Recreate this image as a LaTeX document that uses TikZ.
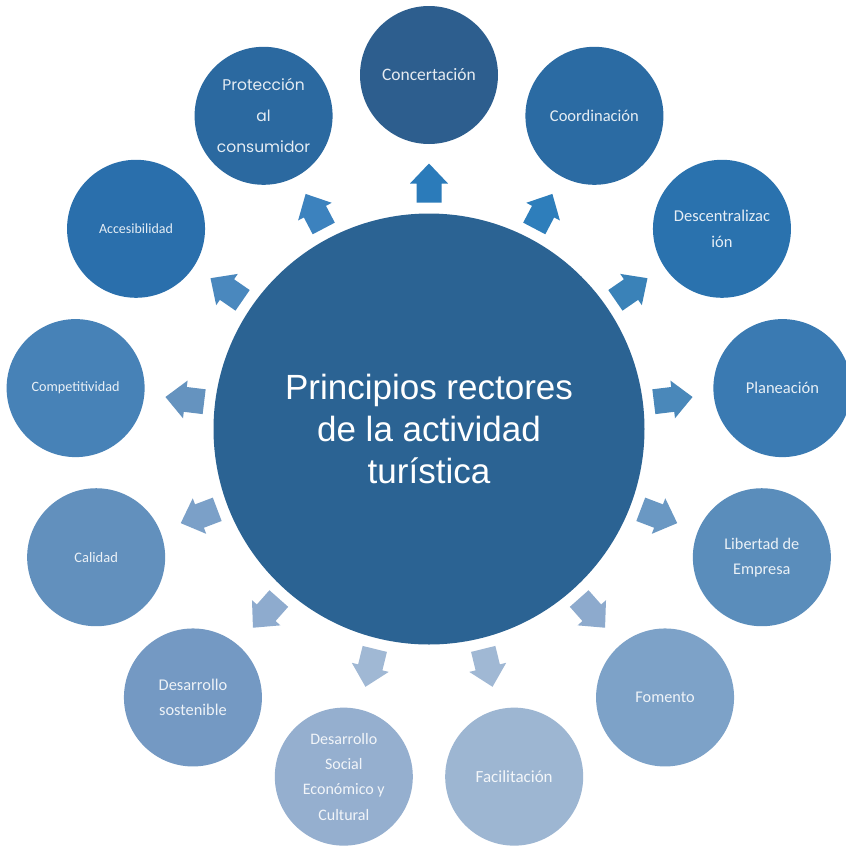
\documentclass[tikz,border=0pt]{standalone}
\usepackage{fontspec}
\setmainfont{Carlito}
\newfontfamily\centerfont{Liberation Sans}
\newfontfamily\protfont{Poppins}
\usetikzlibrary{calc}
\definecolor{cc}{HTML}{2B6393}
\definecolor{c0}{HTML}{2D5E8E}
\definecolor{c1}{HTML}{2B6BA3}
\definecolor{c2}{HTML}{2A72AE}
\definecolor{c3}{HTML}{3A7AB2}
\definecolor{c4}{HTML}{5A8DBB}
\definecolor{c5}{HTML}{7DA2C8}
\definecolor{c6}{HTML}{9DB6D2}
\definecolor{c7}{HTML}{95AFCF}
\definecolor{c8}{HTML}{7499C3}
\definecolor{c9}{HTML}{6290BD}
\definecolor{c10}{HTML}{4782B7}
\definecolor{c11}{HTML}{2A6FAC}
\definecolor{c12}{HTML}{2B69A0}
\definecolor{a0}{HTML}{2B7BBA}
\definecolor{a1}{HTML}{2E7EBB}
\definecolor{a2}{HTML}{3A82B8}
\definecolor{a3}{HTML}{4A88BA}
\definecolor{a4}{HTML}{6A98C3}
\definecolor{a5}{HTML}{8DAACD}
\definecolor{a6}{HTML}{A0B8D4}
\definecolor{a7}{HTML}{A0B8D4}
\definecolor{a8}{HTML}{8EABCE}
\definecolor{a9}{HTML}{7BA0C8}
\definecolor{a10}{HTML}{6593BF}
\definecolor{a11}{HTML}{4A88BE}
\definecolor{a12}{HTML}{3C82BE}
\tikzset{
  outer/.style={circle, minimum size=138pt, inner sep=0pt, align=center, text=white, text opacity=0.88},
  hub/.style={circle, minimum size=431pt, inner sep=0pt, align=center, fill=cc, text=white, font=\centerfont\fontsize{35}{42}\selectfont},
}
\begin{document}
\begin{tikzpicture}[x=1pt,y=1pt]
\fill[white] (0,0) rectangle (846,-847);
\useasboundingbox (0,0) rectangle (846,-847);
\coordinate (c) at (429,-429);
\coordinate (r) at (429,-431);
\node[hub] (hub) at (c) {Principios rectores\\de la actividad\\turística};
% outer circles
\node[outer, fill=c0, font=\fontsize{17.5}{24}\selectfont] (n0) at ($(r)+(90:356)$) {Concertación};
\node[outer, fill=c1, font=\fontsize{16.5}{24}\selectfont] (n1) at ($(r)+(62.308:356)$) {Coordinación};
\node[outer, fill=c2, font=\fontsize{16.5}{26}\selectfont] (n2) at ($(r)+(34.615:356)$) {Descentralizac\\ión};
\node[outer, fill=c3, font=\fontsize{16.5}{24}\selectfont] (n3) at ($(r)+(6.923:356)$) {Planeación};
\node[outer, fill=c4, font=\fontsize{16.3}{25}\selectfont] (n4) at ($(r)+(-20.769:356)$) {Libertad de\\Empresa};
\node[outer, fill=c5, font=\fontsize{16.3}{24}\selectfont] (n5) at ($(r)+(-48.462:356)$) {Fomento};
\node[outer, fill=c6, font=\fontsize{17}{24}\selectfont] (n6) at ($(r)+(-76.154:356)$) {Facilitación};
\node[outer, fill=c7, font=\fontsize{16}{25.3}\selectfont] (n7) at ($(r)+(-103.846:356)$) {Desarrollo\\Social\\Económico y\\Cultural};
\node[outer, fill=c8, font=\fontsize{16.4}{25}\selectfont] (n8) at ($(r)+(-131.538:356)$) {Desarrollo\\sostenible};
\node[outer, fill=c9, font=\fontsize{14.5}{24}\selectfont] (n9) at ($(r)+(-159.231:356)$) {Calidad};
\node[outer, fill=c10, font=\fontsize{14.2}{24}\selectfont] (n10) at ($(r)+(173.077:356)$) {Competitividad};
\node[outer, fill=c11, font=\fontsize{14}{24}\selectfont] (n11) at ($(r)+(145.385:356)$) {Accesibilidad};
\node[outer, fill=c12, font=\protfont\fontsize{15.5}{31}\selectfont] (n12) at ($(r)+(117.692:356)$) {Protección\\al\\consumidor};
% block arrows
\foreach \ang/\col in {90/a0, 62.308/a1, 34.615/a2, 6.923/a3, -20.769/a4, -48.462/a5, -76.154/a6, -103.846/a7, -131.538/a8, -159.231/a9, 173.077/a10, 145.385/a11, 117.692/a12}{
  \begin{scope}[shift={(c)}, rotate=\ang]
    \fill[\col] (226.5,-12.5) -- (245.5,-12.5) -- (245.5,-19) -- (265.5,0) -- (245.5,19) -- (245.5,12.5) -- (226.5,12.5) -- cycle;
  \end{scope}
}
\end{tikzpicture}
\end{document}
